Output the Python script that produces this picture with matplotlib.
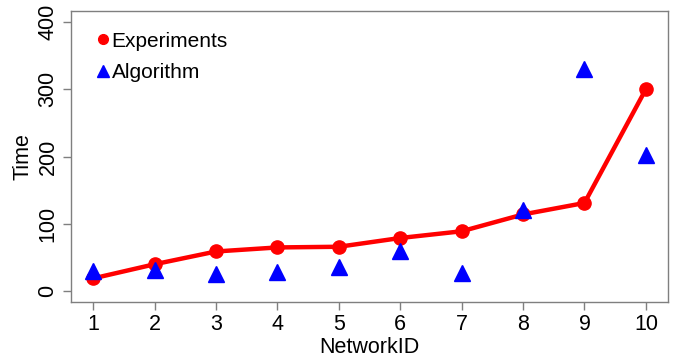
import matplotlib
matplotlib.use("Agg")
import matplotlib.pyplot as plt
from matplotlib.lines import Line2D

plt.rcParams['font.family'] = ['Liberation Sans', 'DejaVu Sans']

network_ids = [1, 2, 3, 4, 5, 6, 7, 8, 9, 10]
experiments = [19, 40, 59, 65, 66, 79, 89, 114, 131, 300]
algorithm = [30, 32, 26, 29, 36, 60, 27, 120, 330, 202]
y_ticks = [0, 100, 200, 300, 400]

FS = 15.5

fig = plt.figure(figsize=(6.81, 3.58), dpi=100)
ax = fig.add_axes([71 / 681, 1 - 302 / 358, (668 - 71) / 681, (302 - 11) / 358])

ax.plot(network_ids, experiments, color='#ff0000', lw=3.2, marker='o',
        markersize=9.5, zorder=3, solid_capstyle='round')
ax.plot(network_ids, algorithm, linestyle='none', marker='^', color='#0000ff',
        markersize=11, zorder=4)

ax.set_xlim(1 - 0.36, 10 + 0.36)
ax.set_ylim(-16, 416)
ax.set_xticks(network_ids)
ax.set_yticks(y_ticks)
ax.set_yticklabels([str(v) for v in y_ticks], rotation=90, va='center')

grey = '#7f7f7f'
for s in ax.spines.values():
    s.set_color(grey)
    s.set_linewidth(1.0)
ax.tick_params(axis='both', colors=grey, labelcolor='black', length=6,
               width=1.0, labelsize=FS)
ax.tick_params(axis='x', pad=3)
ax.tick_params(axis='y', pad=3)

ax.set_xlabel('NetworkID', fontsize=FS, labelpad=1)
ax.set_ylabel('Time', fontsize=FS, labelpad=3)

handles = [
    Line2D([], [], linestyle='none', marker='o', color='#ff0000', markersize=7),
    Line2D([], [], linestyle='none', marker='^', color='#0000ff', markersize=8.5),
]
ax.legend(handles, ['Experiments', 'Algorithm'], loc='upper left',
          bbox_to_anchor=(0.022, 0.972), frameon=False, fontsize=15,
          handlelength=0.6, handletextpad=0.12, labelspacing=0.6,
          borderaxespad=0.2)

fig.savefig('out.png', dpi=100)
